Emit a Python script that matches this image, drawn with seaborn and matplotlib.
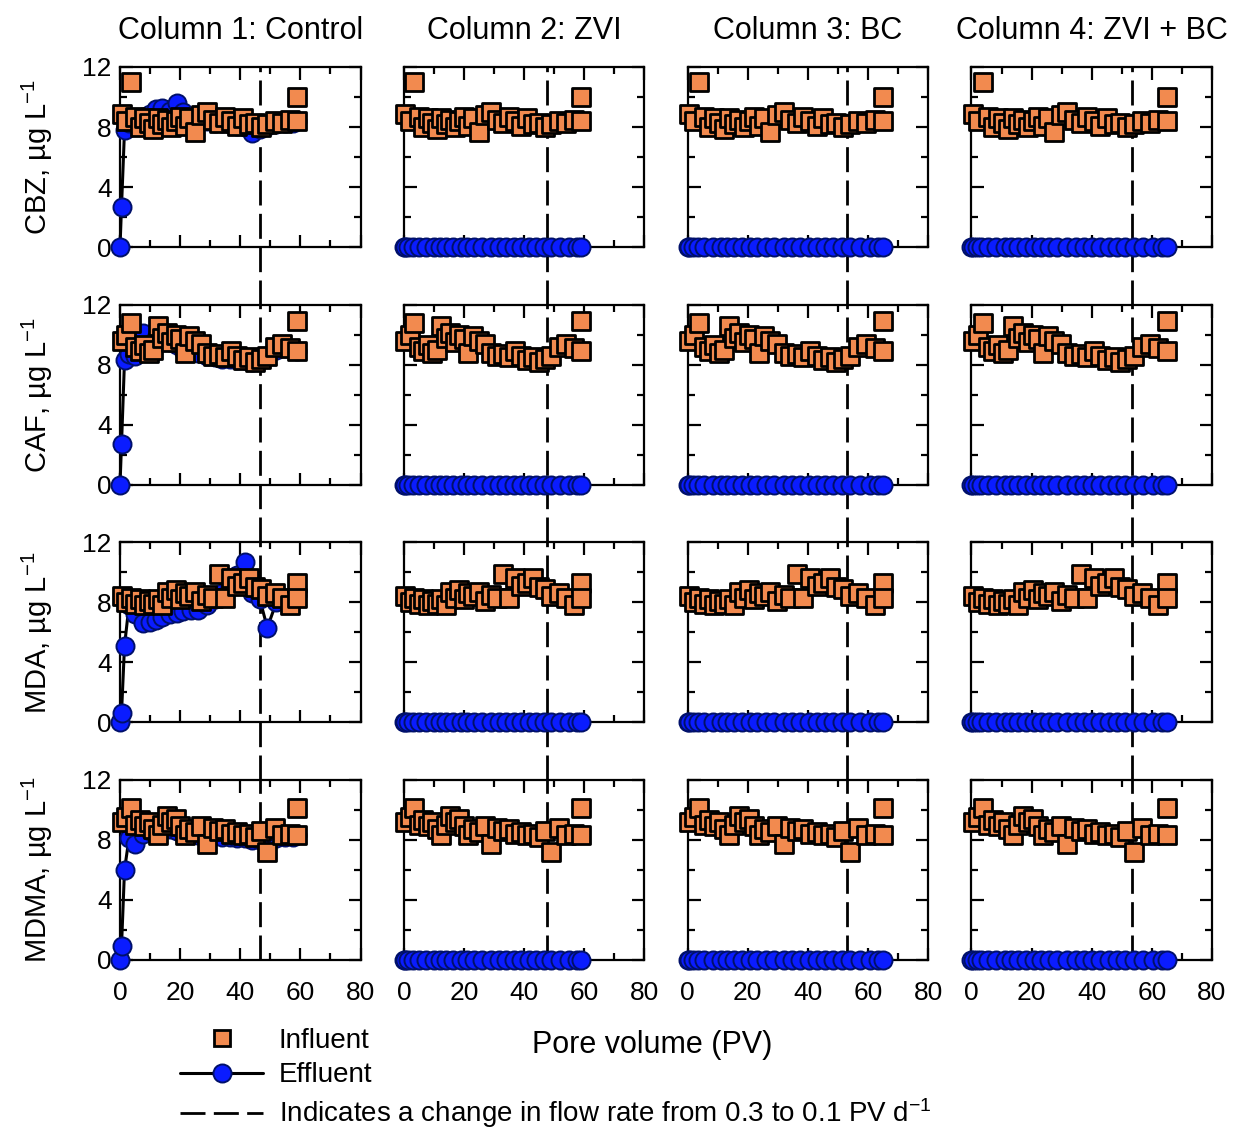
import matplotlib
matplotlib.use("Agg")
import matplotlib.pyplot as plt
from matplotlib.lines import Line2D
from matplotlib.ticker import MultipleLocator
import pandas as pd
import seaborn as sns

# ---------------------------------------------------------------- data
columns = ["Column 1: Control", "Column 2: ZVI", "Column 3: BC", "Column 4: ZVI + BC"]
compounds = ["CBZ", "CAF", "MDA", "MDMA"]

# pore volumes of the influent samples (columns 1-2 and columns 3-4)
pv_in_a = [0.5, 2, 3.5, 5, 6.5, 8, 9.5, 11, 12.5, 14, 15.5, 17, 18.5, 20,
           21.5, 23, 25, 27, 29, 31, 33, 35, 37, 39, 41, 43, 45, 47, 49,
           51.5, 54, 56.5, 59, 59]
pv_in_b = [0.55, 2.2, 3.9, 5.5, 7.2, 8.8, 10.5, 12.1, 13.8, 15.4, 17.1, 18.7,
           20.4, 22, 23.7, 25.3, 27.5, 29.7, 31.9, 34.1, 36.3, 38.5, 40.7,
           42.9, 45.1, 47.3, 49.5, 51.7, 53.9, 56.7, 59.4, 62.2, 65, 65]

# pore volumes of the effluent samples
pv_eff_a = [0, 0.5, 1.5, 3, 5, 7.5, 10, 12, 14, 16.5, 19, 21, 23.5, 26, 29,
            31.5, 34, 36.5, 39, 41.5, 44, 46.5, 49, 52, 55, 57.5, 59]
pv_eff_b = [0, 0.6, 1.7, 3.3, 5.5, 8.3, 11, 13.2, 15.4, 18.2, 20.9, 23.1,
            25.9, 28.6, 31.9, 34.7, 37.4, 40.2, 42.9, 45.7, 48.4, 51.2, 53.9,
            57.2, 60.5, 63.3, 65]

# influent concentrations (ug/L), identical feed for all four columns
inf_cbz = [8.9, 8.4, 11.0, 8.7, 8.0, 8.6, 8.3, 7.9, 8.6, 8.2, 8.5, 8.0, 8.4,
           8.7, 8.1, 8.6, 7.7, 8.8, 9.0, 8.5, 8.3, 8.7, 8.4, 8.1, 8.6, 8.2,
           8.3, 8.0, 8.2, 8.4, 8.3, 8.5, 10.0, 8.4]
inf_caf = [9.6, 10.0, 10.8, 9.2, 8.9, 9.3, 8.8, 9.0, 10.6, 9.8, 10.1, 9.5,
           10.0, 9.7, 8.8, 9.9, 9.6, 9.4, 8.8, 8.6, 8.7, 8.5, 8.9, 8.6, 8.3,
           8.5, 8.2, 8.4, 8.6, 9.2, 9.4, 9.1, 10.9, 8.9]
inf_mda = [8.4, 8.0, 8.3, 7.9, 8.2, 7.8, 8.1, 7.9, 8.2, 7.8, 8.7, 8.3, 8.8,
           8.2, 8.6, 8.4, 8.7, 8.1, 8.5, 8.3, 9.9, 8.3, 9.6, 9.1, 9.3, 9.6,
           9.0, 8.9, 8.4, 8.6, 8.3, 7.8, 9.3, 8.3]
inf_mdma = [9.2, 9.5, 10.1, 9.0, 9.3, 8.9, 9.2, 8.7, 8.3, 9.0, 9.6, 9.2, 9.4,
            8.9, 8.3, 8.7, 8.5, 8.9, 7.7, 8.8, 8.6, 8.7, 8.4, 8.5, 8.3, 8.4,
            8.2, 8.6, 7.2, 8.8, 8.3, 8.4, 10.1, 8.3]

# effluent concentrations of the control column (ug/L)
eff_cbz_ctrl = [0, 2.7, 7.8, 8.3, 8.5, 8.7, 8.9, 9.2, 9.3, 9.1, 9.6, 9.0, 8.7,
                8.5, 8.4, 8.3, 8.3, 8.2, 8.1, 8.0, 7.6, 7.9, 8.1, 8.2, 8.3,
                8.3, 8.4]
eff_caf_ctrl = [0, 2.7, 8.3, 8.7, 8.6, 10.1, 9.4, 9.8, 9.7, 9.5, 9.3, 9.0, 8.9,
                8.8, 8.6, 8.5, 8.4, 8.4, 8.3, 8.3, 8.2, 8.3, 8.6, 9.0, 9.1,
                9.0, 8.9]
eff_mda_ctrl = [0, 0.6, 5.1, 7.8, 7.2, 6.6, 6.7, 6.8, 7.0, 7.2, 7.3, 7.4, 7.5,
                7.5, 7.8, 8.2, 8.6, 9.0, 9.8, 10.7, 8.6, 8.2, 6.3, 8.0, 8.3,
                8.4, 8.5]
eff_mdma_ctrl = [0, 0.9, 6.0, 8.1, 7.7, 8.4, 8.6, 8.7, 8.8, 8.7, 8.6, 8.5, 8.4,
                 8.3, 8.3, 8.3, 8.2, 8.2, 8.1, 8.1, 8.0, 8.0, 8.0, 8.1, 8.2,
                 8.2, 8.3]

# effluent of the amended columns (ZVI, BC, ZVI + BC): below detection
eff_treated = [0, 0, 0, 0, 0, 0, 0, 0, 0, 0, 0, 0, 0, 0, 0, 0, 0, 0, 0, 0, 0,
               0, 0, 0, 0, 0, 0]

# pore volume at which the flow rate was lowered, per column
flow_change_pv = [46.7, 47.7, 53.0, 53.5]

influent = {"CBZ": inf_cbz, "CAF": inf_caf, "MDA": inf_mda, "MDMA": inf_mdma}
effluent_ctrl = {"CBZ": eff_cbz_ctrl, "CAF": eff_caf_ctrl,
                 "MDA": eff_mda_ctrl, "MDMA": eff_mdma_ctrl}
pv_in = [pv_in_a, pv_in_a, pv_in_b, pv_in_b]
pv_eff = [pv_eff_a, pv_eff_a, pv_eff_b, pv_eff_b]

# ---------------------------------------------------------------- style
sns.set_theme(style="ticks")
plt.rcParams["font.family"] = ["Liberation Sans", "DejaVu Sans"]
plt.rcParams["mathtext.default"] = "regular"
for key in ("text.color", "axes.labelcolor", "xtick.color", "ytick.color"):
    plt.rcParams[key] = "black"

ORANGE = "#f28a4f"
BLUE = "#0a1cff"
NAVY = "#00106a"
DASH = (0, (9, 3))

fig, axes = plt.subplots(4, 4, figsize=(12.38, 11.3), dpi=100,
                         sharex=True, sharey=True)
fig.patch.set_facecolor("white")
fig.subplots_adjust(left=120 / 1238, right=1212 / 1238,
                    top=1 - 67 / 1130, bottom=1 - 960 / 1130,
                    wspace=0.18, hspace=0.317)
gap_frac = 0.317

for r, cmp in enumerate(compounds):
    for c, col in enumerate(columns):
        ax = axes[r, c]
        eff_vals = effluent_ctrl[cmp] if c == 0 else eff_treated
        eff_df = pd.DataFrame({"pv": pv_eff[c], "conc": eff_vals})
        inf_df = pd.DataFrame({"pv": pv_in[c], "conc": influent[cmp]})

        # flow-rate change, carried down through the gap to the next row
        ax.axvline(flow_change_pv[c], ymin=-gap_frac if r < 3 else 0, ymax=1,
                   color="black", lw=2, ls=DASH, clip_on=False, zorder=2)

        sns.lineplot(data=eff_df, x="pv", y="conc", ax=ax, estimator=None,
                     sort=False, color="black", lw=2.2, marker="o",
                     markersize=13, markerfacecolor=BLUE,
                     markeredgecolor=NAVY, markeredgewidth=1.4,
                     clip_on=False, zorder=3)
        sns.scatterplot(data=inf_df, x="pv", y="conc", ax=ax, marker="s",
                        s=175, color=ORANGE, edgecolor="black",
                        linewidth=2.0, clip_on=False, zorder=4)

        ax.set_xlim(0, 80)
        ax.set_ylim(0, 12)
        ax.xaxis.set_major_locator(MultipleLocator(20))
        ax.xaxis.set_minor_locator(MultipleLocator(10))
        ax.yaxis.set_major_locator(MultipleLocator(4))
        ax.yaxis.set_minor_locator(MultipleLocator(2))
        ax.tick_params(which="both", direction="in", top=True, right=True,
                       colors="black", width=1.6)
        ax.tick_params(which="major", length=9, labelsize=19)
        ax.tick_params(which="minor", length=5)
        ax.tick_params(axis="x", pad=15)
        ax.tick_params(axis="y", pad=6)
        for sp in ax.spines.values():
            sp.set_linewidth(1.6)
            sp.set_color("black")
            sp.set_zorder(2.5)
        ax.set_xlabel("")
        if c == 0:
            ax.set_ylabel(f"{cmp}, µg L$^{{-1}}$", fontsize=21, va="center")
            ax.yaxis.set_label_coords(-0.345, 0.5)
        else:
            ax.set_ylabel("")
        if r == 0:
            ax.set_title(col, fontsize=22, pad=20)

fig.text(652 / 1238, 1 - 1045 / 1130, "Pore volume (PV)", fontsize=22,
         ha="center", va="center")

handles = [
    Line2D([], [], ls="none", marker="s", markersize=12,
           markerfacecolor=ORANGE, markeredgecolor="black",
           markeredgewidth=2.0),
    Line2D([], [], color="black", lw=2.2, marker="o", markersize=13,
           markerfacecolor=BLUE, markeredgecolor=NAVY, markeredgewidth=1.4),
    Line2D([], [], color="black", lw=2, ls=DASH),
]
labels = ["Influent", "Effluent",
          "Indicates a change in flow rate from 0.3 to 0.1 PV d$^{-1}$"]
fig.legend(handles, labels, loc="upper left",
           bbox_to_anchor=(180 / 1238, 1 - 1028 / 1130), frameon=False,
           fontsize=20, handlelength=3.0, handletextpad=0.55,
           labelspacing=0.3, borderpad=0, borderaxespad=0)

fig.savefig("out.png", dpi=100, facecolor="white")
